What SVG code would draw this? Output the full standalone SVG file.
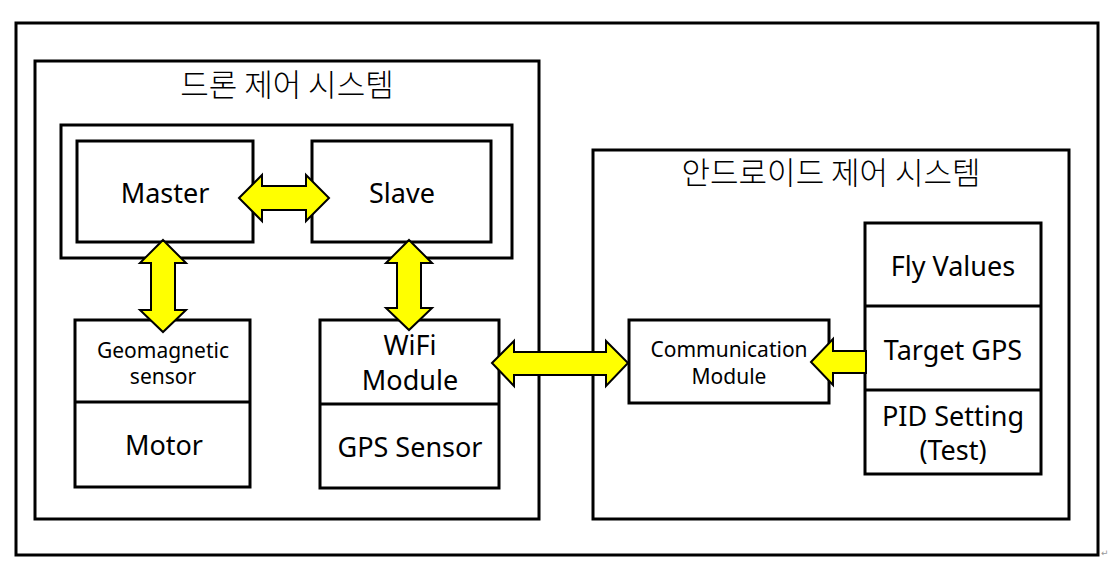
<svg xmlns="http://www.w3.org/2000/svg" width="1117" height="579" viewBox="0 0 1117 579">
<style>
.box{fill:#fff;stroke:#000;stroke-width:3}
.frame{fill:none;stroke:#000;stroke-width:3}
.t{font-family:"Noto Sans","Noto Sans CJK KR",sans-serif;font-size:27px;fill:#000;text-anchor:middle}
.s{font-size:21px}
.k{font-family:"Noto Sans CJK KR","Noto Sans",sans-serif;font-size:31px;font-weight:300;fill:#000;text-anchor:middle}
.arr{fill:#ffff00;stroke:#000;stroke-width:2;stroke-linejoin:miter}
</style>
<rect width="1117" height="579" fill="#fff"/>
<g id="outer-frame"><rect class="frame" x="16" y="23" width="1082" height="532"/></g>
<g id="drone-system">
<rect class="box" x="35" y="61" width="504" height="458"/>
<text class="k" x="287" y="96">드론 제어 시스템</text>
</g>
<g id="controller-group"><rect class="box" x="61" y="125" width="451" height="133"/></g>
<g id="master"><rect class="box" x="77" y="141" width="176" height="101"/><text class="t" x="165" y="203">Master</text></g>
<g id="slave"><rect class="box" x="312" y="141" width="179" height="101"/><text class="t" x="402" y="203">Slave</text></g>
<g id="geomagnetic-motor">
<rect class="box" x="75" y="320" width="175" height="167"/>
<line x1="75" y1="402" x2="250" y2="402" stroke="#000" stroke-width="3"/>
<text class="t s" x="163" y="358">Geomagnetic</text>
<text class="t s" x="163" y="384">sensor</text>
<text class="t" x="164" y="455">Motor</text>
</g>
<g id="wifi-gps">
<rect class="box" x="320" y="320" width="179" height="168"/>
<line x1="320" y1="404" x2="499" y2="404" stroke="#000" stroke-width="3"/>
<text class="t" x="410" y="355">WiFi</text>
<text class="t" x="410" y="390">Module</text>
<text class="t" x="410" y="457">GPS Sensor</text>
</g>
<g id="android-system">
<rect class="box" x="593" y="150" width="476" height="369"/>
<text class="k" x="831" y="184">안드로이드 제어 시스템</text>
</g>
<g id="communication-module">
<rect class="box" x="629" y="320" width="200" height="83"/>
<text class="t s" x="729" y="357">Communication</text>
<text class="t s" x="729" y="384">Module</text>
</g>
<g id="settings-stack">
<rect class="box" x="865" y="223" width="176" height="251"/>
<line x1="865" y1="306" x2="1041" y2="306" stroke="#000" stroke-width="3"/>
<line x1="865" y1="390" x2="1041" y2="390" stroke="#000" stroke-width="3"/>
<text class="t" x="953" y="276">Fly Values</text>
<text class="t" x="953" y="360">Target GPS</text>
<text class="t" x="953" y="426">PID Setting</text>
<text class="t" x="953" y="460">(Test)</text>
</g>
<g id="connectors">
<polygon class="arr" points="239,198 262,175 262,186 306,186 306,175 329,198 306,221 306,210 262,210 262,221"/>
<polygon class="arr" points="163,240 186,263 175,263 175,310 186,310 163,332 140,310 151,310 151,263 140,263"/>
<polygon class="arr" points="409,240 432,263 421,263 421,308 432,308 409,330 386,308 397,308 397,263 386,263"/>
<polygon class="arr" points="492,363 514,341 514,352 606,352 606,341 628,363 606,386 606,375 514,375 514,386"/>
<polygon class="arr" points="811,362 833,339 833,351 866,351 866,373 833,373 833,385"/>
</g>
<text x="1101" y="556" font-family="'DejaVu Sans',sans-serif" font-size="9" fill="#999">↵</text>
</svg>
